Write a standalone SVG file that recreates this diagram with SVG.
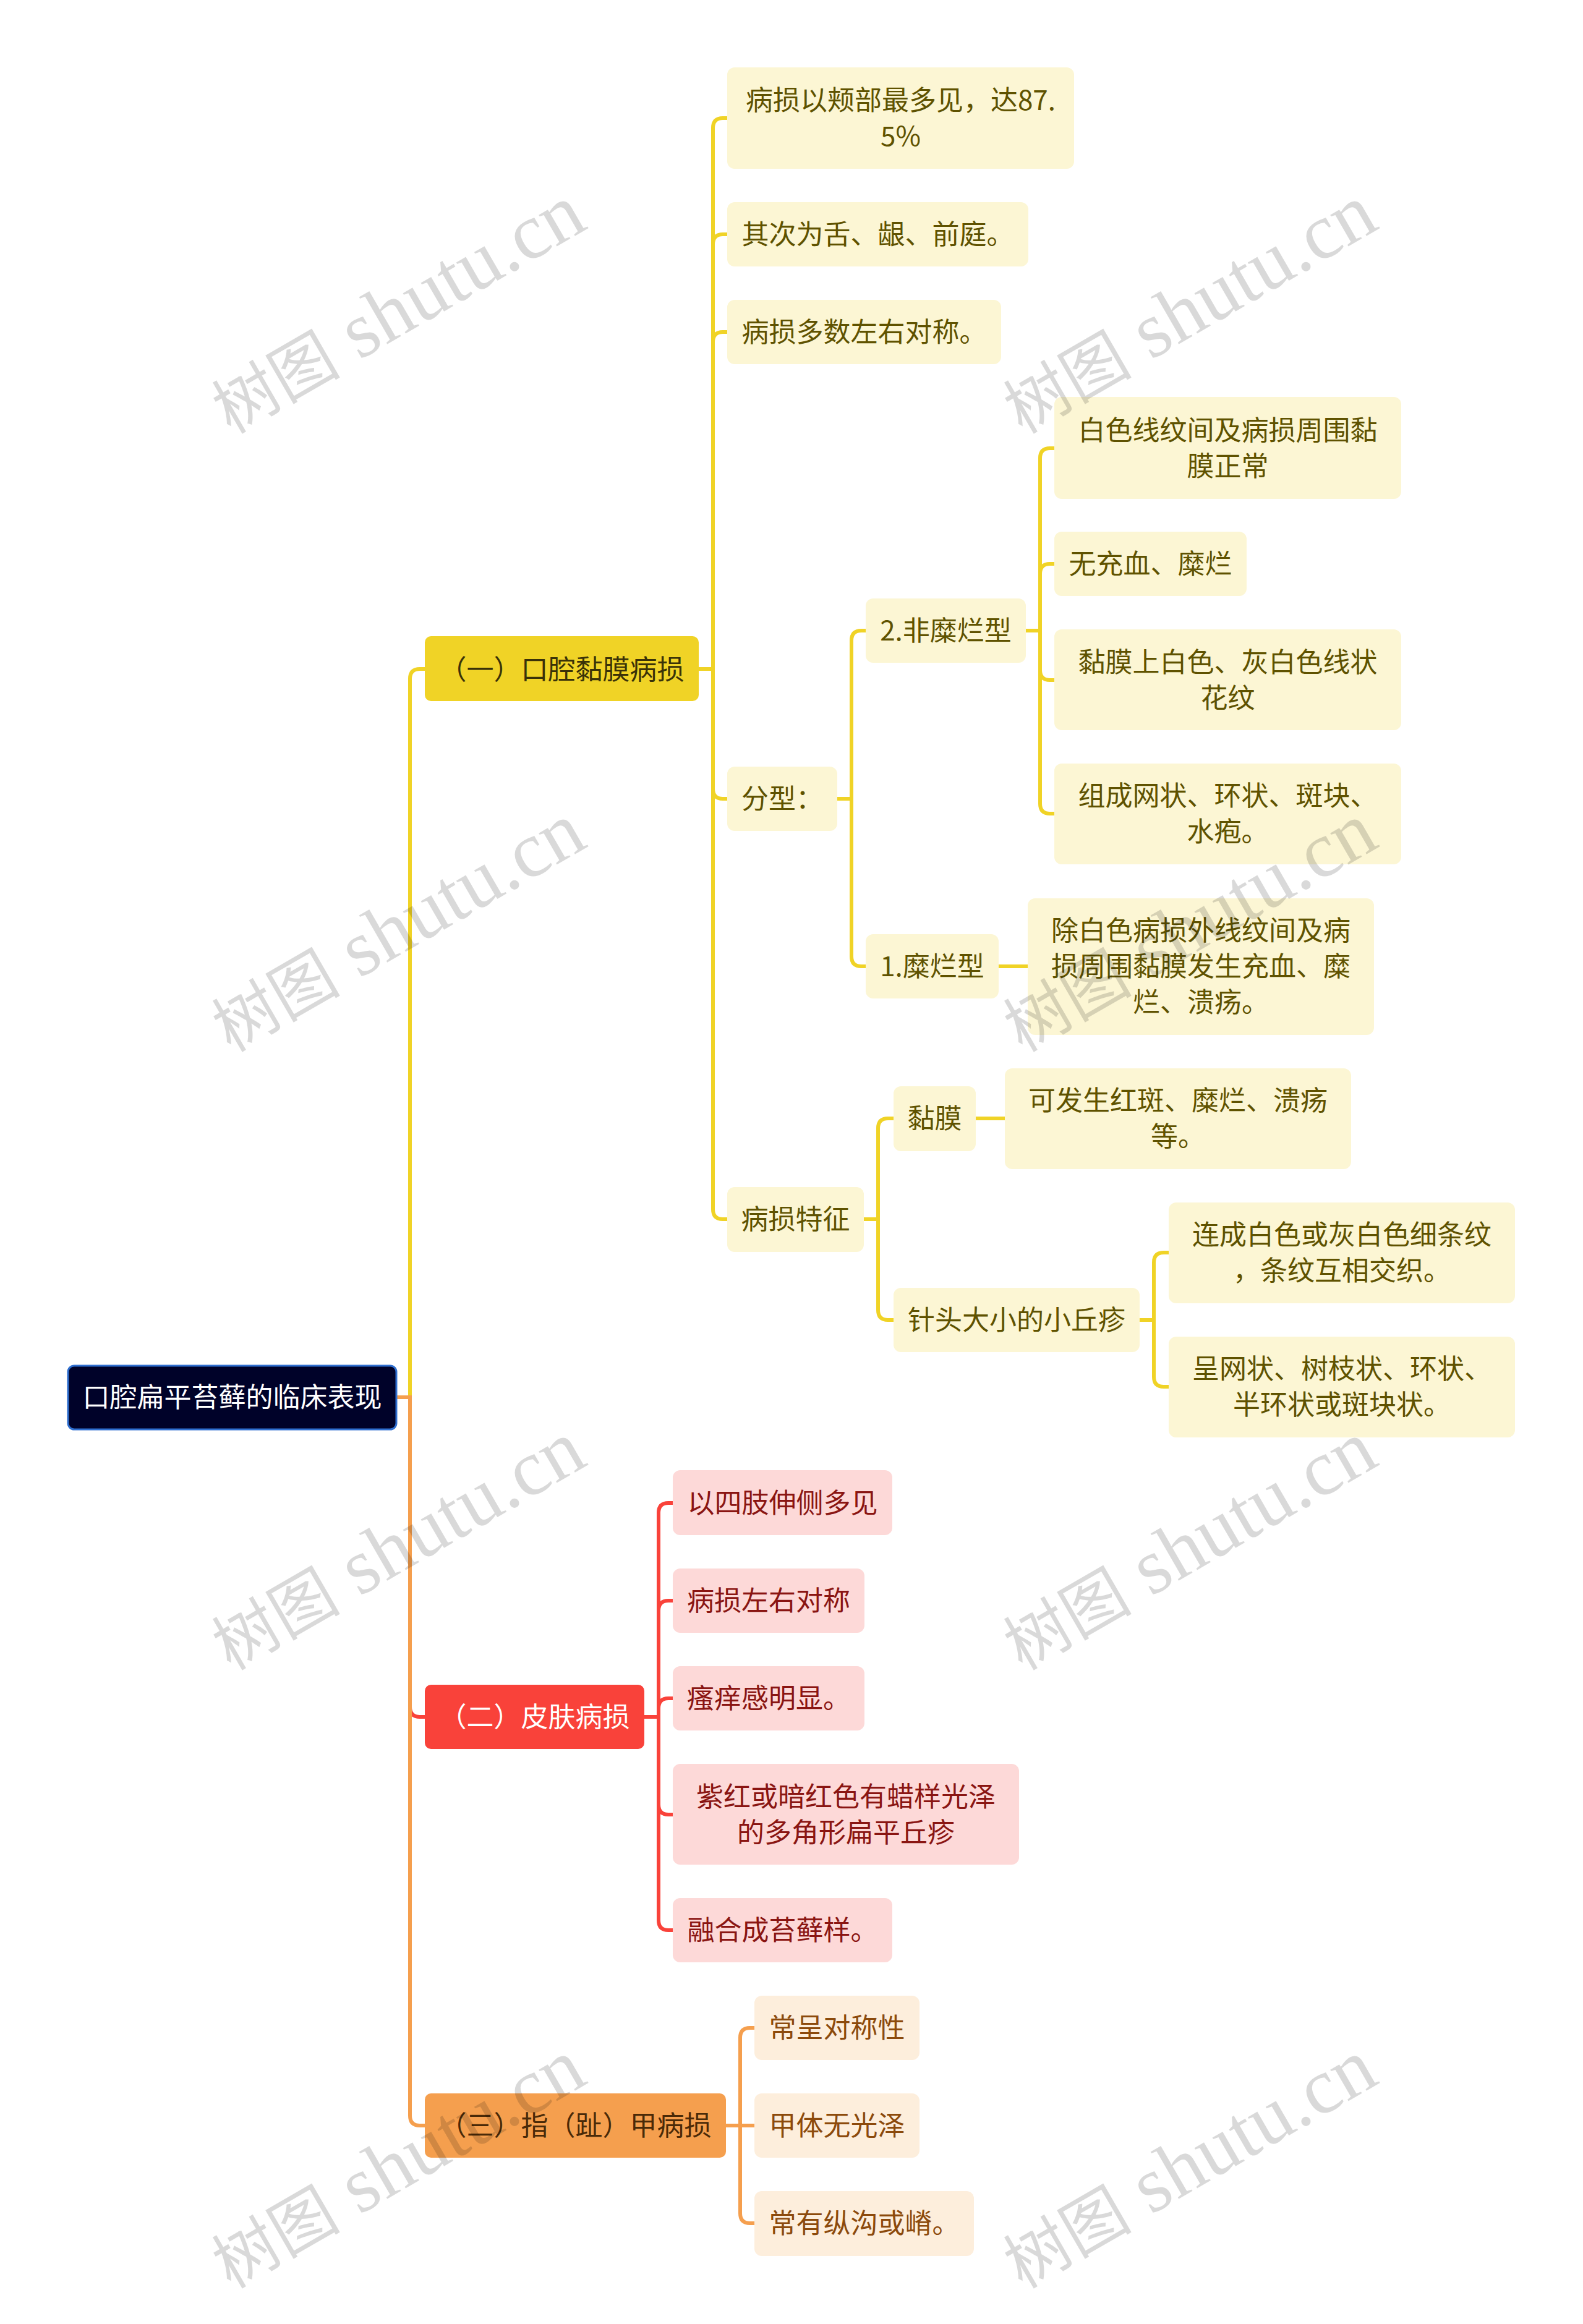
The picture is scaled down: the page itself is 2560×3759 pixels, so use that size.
<svg xmlns="http://www.w3.org/2000/svg" width="2560" height="3759" viewBox="0 0 2560 3759">
<style>
text{font-family:"Noto Sans CJK SC","Noto Sans",sans-serif;font-size:44px;text-anchor:middle}
.c{fill:none;stroke-width:6}
.y{stroke:#F0D326}.r{stroke:#F9423A}.o{stroke:#F59F4E}
.ny rect{fill:#FCF6D4}.ny text{fill:#5F5200}
.nr rect{fill:#FDD9D8}.nr text{fill:#8A1512}
.no rect{fill:#FDEEDC}.no text{fill:#8C4A0C}
text.wm{font-family:"Liberation Serif","Noto Sans CJK SC",serif;font-size:128px;fill:#000;fill-opacity:.15;text-anchor:start}
.wc{font-size:104px}
</style>
<rect width="2560" height="3759" fill="#fff"/>
<g id="connectors">
<path class="c y" d="M663 2260V1098Q663 1082 679 1082H687"/>
<path class="c r" d="M663 2260V2761Q663 2777 679 2777H687"/>
<path class="c o" d="M641 2260H663V3422Q663 3438 679 3438H687"/>
<path class="c y" d="M1130 1082H1153"/>
<path class="c y" d="M1153 1082V207Q1153 191 1169 191H1176"/>
<path class="c y" d="M1153 1082V395Q1153 379 1169 379H1176"/>
<path class="c y" d="M1153 1082V553Q1153 537 1169 537H1176"/>
<path class="c y" d="M1153 1082V1276Q1153 1292 1169 1292H1176"/>
<path class="c y" d="M1153 1082V1956Q1153 1972 1169 1972H1176"/>
<path class="c y" d="M1354 1292H1377"/>
<path class="c y" d="M1377 1292V1036Q1377 1020 1393 1020H1400"/>
<path class="c y" d="M1377 1292V1547Q1377 1563 1393 1563H1400"/>
<path class="c y" d="M1659 1020H1682"/>
<path class="c y" d="M1682 1020V741Q1682 725 1698 725H1705"/>
<path class="c y" d="M1682 1020V928Q1682 912 1698 912H1705"/>
<path class="c y" d="M1682 1020V1084Q1682 1100 1698 1100H1705"/>
<path class="c y" d="M1682 1020V1300Q1682 1316 1698 1316H1705"/>
<path class="c y" d="M1615 1563H1662"/>
<path class="c y" d="M1397 1972H1420"/>
<path class="c y" d="M1420 1972V1825Q1420 1809 1436 1809H1445"/>
<path class="c y" d="M1420 1972V2119Q1420 2135 1436 2135H1445"/>
<path class="c y" d="M1578 1809H1625"/>
<path class="c y" d="M1843 2135H1866"/>
<path class="c y" d="M1866 2135V2042Q1866 2026 1882 2026H1890"/>
<path class="c y" d="M1866 2135V2227Q1866 2243 1882 2243H1890"/>
<path class="c r" d="M1042 2777H1065"/>
<path class="c r" d="M1065 2777V2447Q1065 2431 1081 2431H1088"/>
<path class="c r" d="M1065 2777V2605Q1065 2589 1081 2589H1088"/>
<path class="c r" d="M1065 2777V2763Q1065 2747 1081 2747H1088"/>
<path class="c r" d="M1065 2777V2919Q1065 2935 1081 2935H1088"/>
<path class="c r" d="M1065 2777V3106Q1065 3122 1081 3122H1088"/>
<path class="c o" d="M1174 3438H1220"/>
<path class="c o" d="M1197 3438V3296Q1197 3280 1213 3280H1220"/>
<path class="c o" d="M1197 3438V3580Q1197 3596 1213 3596H1220"/>
</g>
<g id="root"><rect x="110" y="2209" width="531" height="103" rx="10" fill="#000229" stroke="#2F6FD0" stroke-width="3"/><text x="375.5" y="2276" fill="#fff">口腔扁平苔藓的临床表现</text></g>
<g id="n1"><rect x="687" y="1029" width="443" height="105" rx="10" fill="#F0D326"/><text x="908.5" y="1099" fill="#3A3208">（一）口腔黏膜病损</text></g>
<g id="n2"><rect x="687" y="2725" width="355" height="104" rx="10" fill="#F9423A"/><text x="864.5" y="2793" fill="#fff">（二）皮肤病损</text></g>
<g id="n3"><rect x="687" y="3386" width="487" height="104" rx="10" fill="#F59F4E"/><text x="930.5" y="3454" fill="#4A2A08">（三）指（趾）甲病损</text></g>
<g id="a1" class="ny"><rect x="1176" y="109" width="561" height="164" rx="12"/><text x="1456.5" y="178">病损以颊部最多见，达87.</text><text x="1456.5" y="236">5%</text></g>
<g id="a2" class="ny"><rect x="1176" y="327" width="487" height="104" rx="12"/><text x="1419.5" y="395">其次为舌、龈、前庭。</text></g>
<g id="a3" class="ny"><rect x="1176" y="485" width="443" height="104" rx="12"/><text x="1397.5" y="553">病损多数左右对称。</text></g>
<g id="a4" class="ny"><rect x="1176" y="1240" width="178" height="104" rx="12"/><text x="1265" y="1308">分型：</text></g>
<g id="a5" class="ny"><rect x="1176" y="1920" width="221" height="105" rx="12"/><text x="1286.5" y="1988">病损特征</text></g>
<g id="b1" class="ny"><rect x="1400" y="968" width="259" height="104" rx="12"/><text x="1529.5" y="1036">2.非糜烂型</text></g>
<g id="b2" class="ny"><rect x="1400" y="1511" width="215" height="104" rx="12"/><text x="1507.5" y="1579">1.糜烂型</text></g>
<g id="c1" class="ny"><rect x="1705" y="642" width="561" height="165" rx="12"/><text x="1985.5" y="712">白色线纹间及病损周围黏</text><text x="1985.5" y="770">膜正常</text></g>
<g id="c2" class="ny"><rect x="1705" y="860" width="311" height="104" rx="12"/><text x="1860.5" y="928">无充血、糜烂</text></g>
<g id="c3" class="ny"><rect x="1705" y="1018" width="561" height="163" rx="12"/><text x="1985.5" y="1087">黏膜上白色、灰白色线状</text><text x="1985.5" y="1145">花纹</text></g>
<g id="c4" class="ny"><rect x="1705" y="1235" width="561" height="163" rx="12"/><text x="1985.5" y="1303">组成网状、环状、斑块、</text><text x="1985.5" y="1361">水疱。</text></g>
<g id="c5" class="ny"><rect x="1662" y="1453" width="560" height="221" rx="12"/><text x="1942" y="1521">除白色病损外线纹间及病</text><text x="1942" y="1579">损周围黏膜发生充血、糜</text><text x="1942" y="1637">烂、溃疡。</text></g>
<g id="d1" class="ny"><rect x="1445" y="1757" width="133" height="105" rx="12"/><text x="1511.5" y="1825">黏膜</text></g>
<g id="d2" class="ny"><rect x="1625" y="1728" width="560" height="163" rx="12"/><text x="1905" y="1796">可发生红斑、糜烂、溃疡</text><text x="1905" y="1854">等。</text></g>
<g id="d3" class="ny"><rect x="1445" y="2083" width="398" height="104" rx="12"/><text x="1644" y="2151">针头大小的小丘疹</text></g>
<g id="d4" class="ny"><rect x="1890" y="1945" width="560" height="163" rx="12"/><text x="2170" y="2013">连成白色或灰白色细条纹</text><text x="2170" y="2071">，条纹互相交织。</text></g>
<g id="d5" class="ny"><rect x="1890" y="2162" width="560" height="163" rx="12"/><text x="2170" y="2230">呈网状、树枝状、环状、</text><text x="2170" y="2288">半环状或斑块状。</text></g>
<g id="e1" class="nr"><rect x="1088" y="2378" width="355" height="105" rx="12"/><text x="1265.5" y="2447">以四肢伸侧多见</text></g>
<g id="e2" class="nr"><rect x="1088" y="2537" width="310" height="104" rx="12"/><text x="1243" y="2605">病损左右对称</text></g>
<g id="e3" class="nr"><rect x="1088" y="2695" width="310" height="104" rx="12"/><text x="1243" y="2763">瘙痒感明显。</text></g>
<g id="e4" class="nr"><rect x="1088" y="2853" width="560" height="163" rx="12"/><text x="1368" y="2922">紫红或暗红色有蜡样光泽</text><text x="1368" y="2980">的多角形扁平丘疹</text></g>
<g id="e5" class="nr"><rect x="1088" y="3070" width="355" height="104" rx="12"/><text x="1265.5" y="3138">融合成苔藓样。</text></g>
<g id="f1" class="no"><rect x="1220" y="3228" width="267" height="104" rx="12"/><text x="1353.5" y="3296">常呈对称性</text></g>
<g id="f2" class="no"><rect x="1220" y="3386" width="267" height="104" rx="12"/><text x="1353.5" y="3454">甲体无光泽</text></g>
<g id="f3" class="no"><rect x="1220" y="3544" width="355" height="105" rx="12"/><text x="1397.5" y="3612">常有纵沟或嵴。</text></g>
<g id="watermarks">
<text class="wm" transform="translate(373 703) rotate(-30)"><tspan class="wc">树图</tspan> shutu.cn</text>
<text class="wm" transform="translate(1653 703) rotate(-30)"><tspan class="wc">树图</tspan> shutu.cn</text>
<text class="wm" transform="translate(373 1703) rotate(-30)"><tspan class="wc">树图</tspan> shutu.cn</text>
<text class="wm" transform="translate(1653 1703) rotate(-30)"><tspan class="wc">树图</tspan> shutu.cn</text>
<text class="wm" transform="translate(373 2703) rotate(-30)"><tspan class="wc">树图</tspan> shutu.cn</text>
<text class="wm" transform="translate(1653 2703) rotate(-30)"><tspan class="wc">树图</tspan> shutu.cn</text>
<text class="wm" transform="translate(373 3703) rotate(-30)"><tspan class="wc">树图</tspan> shutu.cn</text>
<text class="wm" transform="translate(1653 3703) rotate(-30)"><tspan class="wc">树图</tspan> shutu.cn</text>
</g>
</svg>
